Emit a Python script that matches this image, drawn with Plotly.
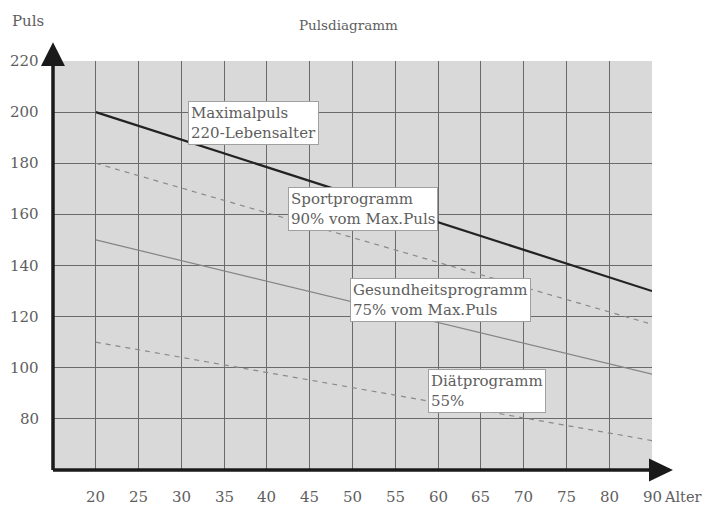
import plotly.graph_objects as go

# Data
x_tick_labels = ["20", "25", "30", "35", "40", "45", "50", "55", "60", "65", "70", "75", "80", "90"]
y_tick_values = [80, 100, 120, 140, 160, 180, 200, 220]

ages = ["20", "90"]
max_puls = [200, 130]
sport = [180, 117]
gesundheit = [150, 97.5]
diaet = [110, 71.5]

series_labels = [
    "Maximalpuls<br>220-Lebensalter",
    "Sportprogramm<br>90% vom Max.Puls",
    "Gesundheitsprogramm<br>75% vom Max.Puls",
    "Diätprogramm<br>55%",
]

# tick labels sit on equally spaced columns 1..14
pos = {lab: i + 1 for i, lab in enumerate(x_tick_labels)}
xp = [pos[a] for a in ages]

FONT = "DejaVu Serif, Liberation Serif, serif"
TXT = "#5e5e5e"

fig = go.Figure()
fig.add_trace(go.Scatter(x=xp, y=max_puls, mode="lines",
                         line=dict(color="#222222", width=2.2), hoverinfo="skip"))
fig.add_trace(go.Scatter(x=xp, y=sport, mode="lines",
                         line=dict(color="#8a8a8a", width=1.2, dash="5px,5px"), hoverinfo="skip"))
fig.add_trace(go.Scatter(x=xp, y=gesundheit, mode="lines",
                         line=dict(color="#858585", width=1.2), hoverinfo="skip"))
fig.add_trace(go.Scatter(x=xp, y=diaet, mode="lines",
                         line=dict(color="#8a8a8a", width=1.2, dash="5px,5px"), hoverinfo="skip"))

# label boxes (anchored at column position / pulse)
box_pos = [(3.15, 195.6), (5.49, 162.1), (6.94, 126.7), (8.76, 90.9)]
for text, (bx, by) in zip(series_labels, box_pos):
    fig.add_annotation(x=bx, y=by, xref="x", yref="y", text=text, showarrow=False,
                       xanchor="left", yanchor="middle", align="left",
                       font=dict(family=FONT, size=15, color=TXT),
                       bgcolor="white", bordercolor="#a0a0a0", borderwidth=1, borderpad=2)

# y tick labels
for v in y_tick_values:
    fig.add_annotation(x=0, y=v, xref="paper", yref="y", text=str(v), showarrow=False,
                       xanchor="right", xshift=-12, yanchor="middle",
                       font=dict(family=FONT, size=15, color=TXT))

# x tick labels
for lab in x_tick_labels:
    fig.add_annotation(x=pos[lab], y=0, xref="x", yref="paper", text=lab, showarrow=False,
                       yanchor="middle", yshift=-27,
                       font=dict(family=FONT, size=15, color=TXT))
fig.add_annotation(x=1, y=0, xref="paper", yref="paper", text="Alter", showarrow=False,
                   xanchor="left", xshift=10, yanchor="middle", yshift=-27,
                   font=dict(family=FONT, size=14.5, color=TXT))
fig.add_annotation(x=0, y=1, xref="paper", yref="paper", text="Puls", showarrow=False,
                   xanchor="left", xshift=-43, yanchor="middle", yshift=40,
                   font=dict(family=FONT, size=15, color=TXT))
fig.add_annotation(x=0.494, y=1, xref="paper", yref="paper", text="Pulsdiagramm", showarrow=False,
                   xanchor="center", yanchor="middle", yshift=36,
                   font=dict(family=FONT, size=13.5, color=TXT))

# axis lines with arrowheads
fig.add_shape(type="line", xref="paper", yref="paper", x0=0, y0=0, x1=0, y1=1.0,
              line=dict(color="#1a1a1a", width=3.5))
fig.add_shape(type="line", xref="paper", yref="paper", x0=0, y0=0, x1=1.0, y1=0,
              line=dict(color="#1a1a1a", width=3.5))
fig.add_shape(type="path", xref="paper", yref="paper",
              path="M -0.02,0.988 L 0.02,0.988 L 0,1.046 Z",
              fillcolor="#1a1a1a", line=dict(width=0))
fig.add_shape(type="path", xref="paper", yref="paper",
              path="M 0.995,-0.028 L 0.995,0.028 L 1.035,0 Z",
              fillcolor="#1a1a1a", line=dict(width=0))

fig.update_layout(
    width=705, height=506,
    margin=dict(l=53, r=53, t=61, b=36),
    paper_bgcolor="white",
    plot_bgcolor="#d9d9d9",
    showlegend=False,
    xaxis=dict(range=[0, 14], tickvals=list(range(1, 14)), showticklabels=False,
               showgrid=True, gridcolor="#6a6a6a", gridwidth=1, zeroline=False, showline=False,
               fixedrange=True),
    yaxis=dict(range=[60, 220], tickvals=[80, 100, 120, 140, 160, 180, 200], showticklabels=False,
               showgrid=True, gridcolor="#6a6a6a", gridwidth=1, zeroline=False, showline=False,
               fixedrange=True),
)

fig.write_html("out.html", config={"displayModeBar": False},
               post_script="document.body.style.margin='0';document.body.style.overflow='hidden';")
